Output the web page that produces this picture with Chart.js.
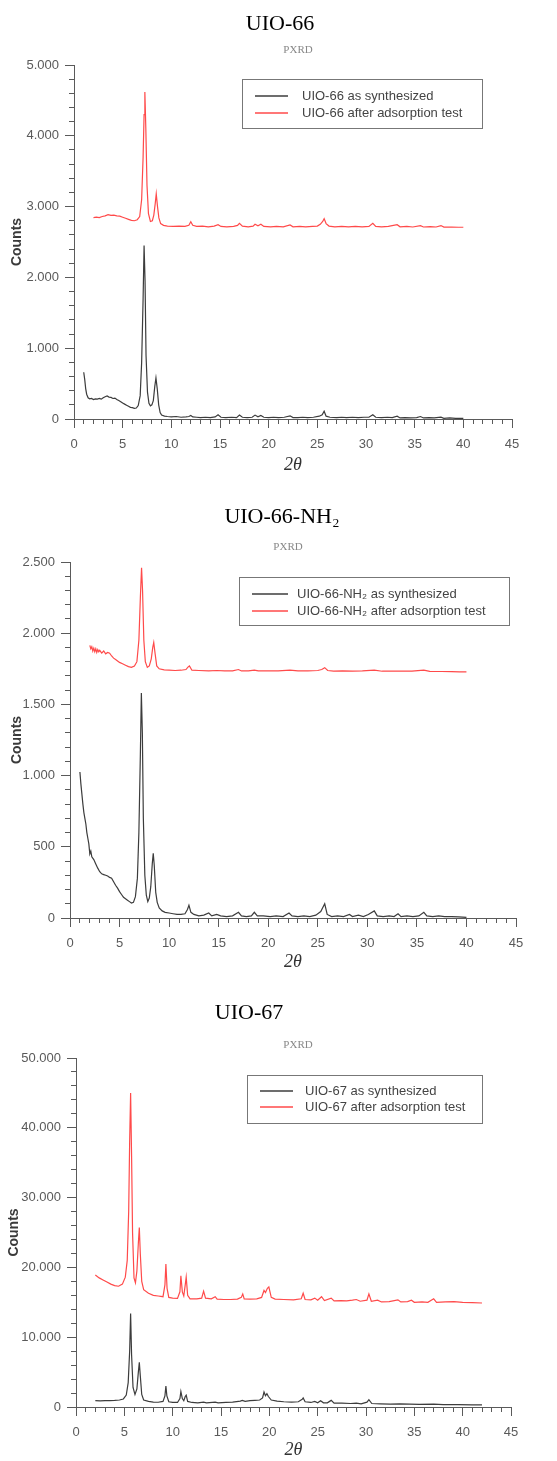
<!DOCTYPE html>
<html>
<head>
<meta charset="utf-8">
<script src="https://cdn.jsdelivr.net/npm/chart.js@4.4.1/dist/chart.umd.min.js"></script>
<style>
  body { margin: 0; background: #fff; width: 557px; height: 1461px; overflow: hidden; }
  .box { position: absolute; left: 0; width: 557px; }
</style>
</head>
<body>
<div class="box" style="top:0;height:490px"><canvas id="chart66"></canvas></div>
<div class="box" style="top:490px;height:500px"><canvas id="chart66nh2"></canvas></div>
<div class="box" style="top:990px;height:471px"><canvas id="chart67"></canvas></div>
<script>
// ---- UIO-66 ----
var uio66SynX = [1.0, 1.1, 1.2, 1.3, 1.45, 1.6, 1.8, 2.0, 2.2, 2.4, 2.6, 2.8, 3.0, 3.2, 3.4, 3.6, 3.8, 4.0, 4.2, 4.4, 4.6, 4.8, 5.0, 5.2, 5.4, 5.6, 5.8, 6.0, 6.2, 6.4, 6.6, 6.8, 6.95, 7.1, 7.2, 7.3, 7.4, 7.55, 7.7, 7.85, 8.0, 8.15, 8.3, 8.42, 8.55, 8.7, 8.85, 9.0, 9.3, 9.6, 10.0, 10.5, 11.0, 11.5, 11.8, 12.0, 12.2, 12.6, 13.0, 13.5, 14.0, 14.5, 14.8, 15.1, 15.6, 16.2, 16.7, 17.0, 17.3, 17.8, 18.3, 18.6, 18.9, 19.2, 19.5, 20.0, 20.5, 21.0, 21.6, 22.2, 22.5, 23.0, 23.5, 24.0, 24.6, 25.2, 25.5, 25.7, 25.9, 26.3, 27.0, 27.5, 28.0, 28.6, 29.2, 29.8, 30.3, 30.7, 31.0, 31.6, 32.2, 32.7, 33.2, 33.5, 34.0, 34.6, 35.2, 35.6, 35.9, 36.5, 37.0, 37.7, 38.0, 38.6, 39.2, 40.0];
var uio66SynY = [660, 560, 430, 350, 300, 285, 290, 275, 285, 280, 290, 280, 300, 315, 325, 310, 305, 290, 295, 275, 260, 245, 225, 210, 195, 180, 165, 160, 150, 155, 190, 330, 800, 1700, 2450, 1950, 900, 380, 220, 185, 200, 260, 460, 580, 430, 200, 90, 55, 40, 35, 30, 35, 25, 30, 35, 50, 30, 25, 20, 25, 20, 30, 60, 25, 20, 25, 20, 55, 25, 20, 25, 55, 30, 50, 25, 20, 25, 20, 25, 45, 20, 20, 25, 20, 25, 40, 60, 110, 40, 25, 20, 25, 20, 25, 20, 25, 25, 60, 25, 20, 25, 20, 40, 15, 20, 15, 20, 35, 15, 20, 15, 25, 10, 15, 10, 10];
var uio66AdsX = [2.0, 2.3, 2.6, 2.9, 3.2, 3.5, 3.8, 4.1, 4.4, 4.7, 5.0, 5.3, 5.6, 5.9, 6.2, 6.5, 6.75, 6.95, 7.1, 7.2, 7.28, 7.38, 7.5, 7.65, 7.85, 8.05, 8.2, 8.35, 8.45, 8.58, 8.72, 8.9, 9.2, 9.6, 10.2, 10.8, 11.4, 11.8, 12.0, 12.2, 12.6, 13.2, 13.8, 14.4, 14.8, 15.1, 15.7, 16.4, 16.8, 17.0, 17.3, 17.9, 18.4, 18.6, 18.9, 19.2, 19.5, 20.2, 20.8, 21.5, 22.2, 22.5, 23.2, 23.8, 24.5, 25.0, 25.3, 25.55, 25.7, 25.9, 26.2, 26.8, 27.5, 28.2, 28.9, 29.6, 30.3, 30.7, 31.0, 31.6, 32.3, 33.2, 33.5, 34.2, 34.8, 35.6, 35.9, 36.6, 37.2, 37.7, 38.0, 38.8, 39.5, 40.0];
var uio66AdsY = [2845, 2850, 2845, 2860, 2870, 2885, 2875, 2880, 2870, 2865, 2850, 2835, 2820, 2805, 2800, 2815, 2860, 3100, 3700, 4300, 4620, 4100, 3300, 2900, 2790, 2800, 2880, 3050, 3180, 3000, 2840, 2760, 2735, 2725, 2720, 2725, 2720, 2735, 2785, 2735, 2720, 2725, 2715, 2725, 2745, 2720, 2715, 2720, 2735, 2765, 2725, 2715, 2725, 2750, 2730, 2750, 2720, 2715, 2720, 2715, 2740, 2715, 2720, 2715, 2720, 2725, 2750, 2790, 2830, 2760, 2725, 2715, 2720, 2715, 2720, 2715, 2720, 2765, 2720, 2715, 2720, 2745, 2715, 2720, 2712, 2730, 2712, 2718, 2712, 2732, 2710, 2712, 2708, 2708];

// ---- UIO-66-NH2 ----
var nh2SynX = [1.0, 1.1, 1.2, 1.3, 1.4, 1.5, 1.6, 1.7, 1.8, 1.9, 2.0, 2.1, 2.2, 2.4, 2.6, 2.8, 3.0, 3.2, 3.4, 3.6, 3.8, 4.0, 4.2, 4.4, 4.6, 4.8, 5.0, 5.2, 5.4, 5.6, 5.8, 6.0, 6.2, 6.4, 6.6, 6.8, 6.95, 7.1, 7.2, 7.3, 7.4, 7.55, 7.7, 7.85, 8.0, 8.15, 8.3, 8.4, 8.5, 8.65, 8.8, 9.0, 9.3, 9.6, 10.0, 10.4, 10.8, 11.2, 11.6, 11.85, 12.0, 12.2, 12.5, 13.0, 13.5, 14.0, 14.3, 14.8, 15.2, 15.8, 16.4, 17.0, 17.3, 17.8, 18.3, 18.6, 18.9, 19.5, 20.2, 20.8, 21.5, 22.1, 22.4, 23.0, 23.6, 24.2, 24.8, 25.3, 25.7, 25.95, 26.4, 27.0, 27.6, 28.2, 28.5, 29.1, 29.6, 30.1, 30.7, 31.0, 31.6, 32.2, 32.7, 33.1, 33.4, 34.0, 34.6, 35.2, 35.7, 36.0, 36.6, 37.2, 37.8, 38.5, 39.2, 40.0];
var nh2SynY = [1025, 940, 870, 800, 740, 700, 660, 600, 560, 520, 450, 470, 430, 410, 380, 350, 325, 310, 305, 300, 295, 285, 280, 255, 230, 210, 185, 165, 145, 135, 125, 115, 105, 110, 150, 280, 600, 1150, 1580, 1300, 700, 300, 160, 115, 140, 220, 380, 455, 370, 180, 110, 70, 50, 40, 35, 30, 25, 25, 30, 60, 90, 40, 25, 15, 20, 35, 15, 25, 15, 10, 15, 40, 15, 10, 15, 40, 15, 15, 10, 15, 10, 35, 15, 10, 15, 10, 20, 45, 100, 25, 10, 15, 10, 25, 10, 20, 10, 25, 50, 15, 10, 15, 10, 30, 10, 15, 10, 15, 40, 15, 10, 15, 10, 10, 8, 5];
var nh2AdsX = [2.0, 2.1, 2.2, 2.3, 2.4, 2.5, 2.6, 2.7, 2.8, 2.9, 3.0, 3.2, 3.4, 3.6, 3.8, 4.0, 4.2, 4.4, 4.6, 4.8, 5.0, 5.3, 5.6, 5.9, 6.2, 6.5, 6.75, 6.95, 7.1, 7.22, 7.32, 7.45, 7.6, 7.8, 8.0, 8.2, 8.35, 8.45, 8.58, 8.75, 9.0, 9.5, 10.0, 10.6, 11.2, 11.7, 11.9, 12.05, 12.3, 13.0, 14.0, 14.8, 15.6, 16.4, 17.0, 17.3, 18.0, 18.6, 19.0, 20.0, 21.0, 22.2, 23.0, 24.0, 25.0, 25.4, 25.7, 26.0, 26.6, 27.5, 28.5, 29.5, 30.7, 31.5, 32.5, 33.5, 34.5, 35.7, 36.3, 37.5, 38.5, 39.3, 40.0];
var nh2AdsY = [1915, 1890, 1905, 1875, 1895, 1870, 1890, 1865, 1885, 1870, 1880, 1860, 1875, 1855, 1865, 1860, 1840, 1825, 1815, 1805, 1795, 1785, 1775, 1765, 1760, 1770, 1800, 1950, 2250, 2460, 2300, 1950, 1800, 1760, 1770, 1820, 1900, 1935, 1860, 1770, 1750, 1742, 1740, 1738, 1740, 1745, 1762, 1770, 1740, 1738, 1735, 1738, 1735, 1736, 1745, 1735, 1735, 1740, 1735, 1735, 1736, 1740, 1735, 1735, 1738, 1745, 1758, 1738, 1734, 1735, 1733, 1735, 1740, 1733, 1734, 1733, 1734, 1740, 1732, 1731, 1730, 1729, 1728];

// ---- UIO-67 ----
var uio67SynX = [2.0, 2.5, 3.0, 3.5, 4.0, 4.5, 4.9, 5.2, 5.4, 5.55, 5.65, 5.75, 5.9, 6.1, 6.3, 6.45, 6.55, 6.65, 6.8, 7.0, 7.5, 8.0, 8.5, 9.0, 9.2, 9.3, 9.4, 9.6, 10.0, 10.5, 10.75, 10.85, 11.0, 11.15, 11.3, 11.4, 11.55, 12.0, 12.6, 13.2, 13.5, 14.4, 14.7, 15.5, 16.2, 17.0, 17.2, 17.5, 18.0, 18.5, 19.0, 19.3, 19.45, 19.6, 19.75, 19.9, 20.2, 20.8, 21.5, 22.3, 23.0, 23.4, 23.5, 23.7, 24.3, 24.7, 25.0, 25.3, 25.6, 26.0, 26.4, 26.7, 27.5, 28.4, 29.0, 29.5, 30.1, 30.3, 30.6, 31.5, 32.5, 33.5, 34.5, 35.5, 37.0, 38.0, 39.5, 41.0, 42.0];
var uio67SynY = [900, 880, 900, 920, 950, 1000, 1150, 1700, 3500, 8000, 13400, 7500, 2800, 1800, 2600, 5000, 6400, 4500, 1800, 1000, 800, 700, 680, 800, 1600, 3000, 1600, 750, 650, 650, 1200, 2200, 1200, 900, 1500, 1700, 800, 650, 600, 700, 600, 700, 600, 650, 700, 850, 950, 800, 900, 950, 1000, 1300, 2150, 1600, 1900, 1500, 1000, 850, 750, 700, 750, 1100, 1300, 750, 650, 800, 600, 900, 600, 600, 950, 550, 550, 500, 550, 450, 700, 1050, 500, 450, 420, 450, 400, 380, 420, 350, 340, 310, 300];
var uio67AdsX = [2.0, 2.4, 2.8, 3.2, 3.6, 4.0, 4.4, 4.8, 5.1, 5.3, 5.45, 5.55, 5.65, 5.75, 5.85, 6.0, 6.15, 6.3, 6.45, 6.55, 6.65, 6.8, 7.0, 7.5, 8.0, 8.5, 9.0, 9.2, 9.3, 9.42, 9.6, 10.0, 10.5, 10.75, 10.85, 11.0, 11.15, 11.3, 11.4, 11.55, 11.8, 12.5, 13.0, 13.2, 13.4, 14.0, 14.4, 14.6, 15.3, 16.0, 16.7, 17.1, 17.25, 17.4, 18.0, 18.7, 19.2, 19.45, 19.6, 19.8, 19.95, 20.2, 20.6, 21.5, 22.5, 23.3, 23.5, 23.7, 24.3, 24.7, 25.0, 25.4, 25.7, 26.4, 26.7, 27.4, 28.0, 28.6, 29.0, 29.4, 30.1, 30.3, 30.55, 31.2, 31.6, 32.4, 33.3, 33.6, 34.3, 34.7, 35.0, 35.8, 36.4, 37.0, 37.3, 38.2, 39.1, 40.0, 41.0, 42.0];
var uio67AdsY = [18900, 18500, 18200, 17900, 17600, 17400, 17300, 17600, 18600, 21000, 28000, 38000, 45000, 36000, 25000, 18500, 17800, 19500, 23500, 25700, 22000, 18000, 16800, 16300, 16000, 15900, 15800, 17500, 20500, 17000, 15700, 15600, 15550, 16500, 18800, 16500, 15900, 17500, 18600, 16000, 15500, 15500, 15600, 16600, 15600, 15500, 15800, 15450, 15400, 15400, 15450, 15700, 16200, 15500, 15450, 15500, 15700, 16700, 16400, 17000, 17200, 15700, 15450, 15400, 15350, 15500, 16300, 15400, 15350, 15600, 15300, 15800, 15250, 15600, 15200, 15250, 15200, 15300, 15400, 15150, 15300, 16200, 15150, 15300, 15050, 15100, 15350, 15050, 15100, 15300, 15000, 15050, 15000, 15500, 15000, 15050, 15100, 15000, 14950, 14900];

var blackLine = '#3c3c3c';
var redLine = '#ff4a4a';
var axisGrey = '#5a5a5a';

function pts(xs, ys) {
  return xs.map(function (x, i) { return { x: x, y: ys[i] }; });
}

// 5000 -> "5.000"
function thousands(v) {
  return String(v).replace(/\B(?=(\d{3})+(?!\d))/g, '.');
}

// heading, PXRD subtitle and the boxed legend
var decorations = {
  id: 'decorations',
  afterDraw: function (chart, args, o) {
    var ctx = chart.ctx;
    ctx.save();
    ctx.textAlign = 'center';
    ctx.textBaseline = 'middle';
    ctx.fillStyle = '#000';
    ctx.font = '22px "Liberation Serif"';
    ctx.fillText(o.title, o.titleX, o.titleY);
    ctx.fillStyle = '#888';
    ctx.font = '11px "Liberation Serif"';
    ctx.fillText('PXRD', o.subX, o.subY);

    var b = o.box;
    ctx.strokeStyle = '#777';
    ctx.lineWidth = 1;
    ctx.fillStyle = '#fff';
    ctx.fillRect(b[0], b[1], b[2], b[3]);
    ctx.strokeRect(b[0] + 0.5, b[1] + 0.5, b[2], b[3]);
    ctx.textAlign = 'left';
    chart.data.datasets.forEach(function (ds, i) {
      var y = b[1] + o.rows[i];
      ctx.strokeStyle = ds.borderColor;
      ctx.lineWidth = 1.3;
      ctx.beginPath();
      ctx.moveTo(b[0] + 13, y);
      ctx.lineTo(b[0] + o.sample, y);
      ctx.stroke();
      ctx.fillStyle = '#444';
      ctx.font = '13px "Liberation Sans"';
      ctx.fillText(ds.label, b[0] + o.textOff, y);
    });
    ctx.restore();
  }
};

function drawPxrd(id, s) {
  var tickFont = { family: 'Liberation Sans', size: 13 };
  new Chart(document.getElementById(id), {
    type: 'scatter',
    data: {
      datasets: [
        { label: s.name + ' as synthesized', data: pts(s.synX, s.synY), borderColor: blackLine },
        { label: s.name + ' after adsorption test', data: pts(s.adsX, s.adsY), borderColor: redLine }
      ]
    },
    options: {
      responsive: true,
      maintainAspectRatio: false,
      animation: false,
      showLine: true,
      elements: {
        point: { radius: 0 },
        line: { borderWidth: 1.2, tension: 0 }
      },
      layout: { padding: { top: s.top, right: s.right, left: 0, bottom: 0 } },
      plugins: {
        legend: { display: false },
        tooltip: { enabled: false },
        decorations: s.deco
      },
      scales: {
        x: {
          type: 'linear', position: 'bottom', weight: 1, min: 0, max: 45,
          ticks: { stepSize: 5, color: axisGrey, font: tickFont, padding: 9, maxRotation: 0 },
          grid: { drawOnChartArea: false, tickLength: 9, tickColor: axisGrey },
          border: { color: axisGrey },
          title: { display: true, text: '2θ', color: '#333',
                   font: { family: 'Liberation Serif', style: 'italic', size: 18 },
                   padding: { top: 0, bottom: s.xTitlePad } },
          afterFit: function (sc) { sc.height = s.xHeight; }
        },
        xMinor: {
          type: 'linear', position: 'bottom', weight: 0, min: 0, max: 45,
          ticks: { stepSize: 1, display: false, autoSkip: false },
          grid: { drawOnChartArea: false, tickLength: 5, tickColor: axisGrey },
          border: { display: false },
          afterFit: function (sc) { sc.height = 0; }
        },
        y: {
          type: 'linear', position: 'left', weight: 1, min: 0, max: s.yMax,
          ticks: { stepSize: s.yStep, color: axisGrey, font: tickFont, padding: 6,
                   callback: function (v) { return thousands(v); } },
          grid: { drawOnChartArea: false, tickLength: 9, tickColor: axisGrey },
          border: { color: axisGrey },
          title: { display: true, text: 'Counts', color: '#3a3a3a',
                   font: { family: 'Liberation Sans', size: 14, weight: 'bold' },
                   padding: { top: s.yTitlePad, bottom: 0 } },
          afterFit: function (sc) { sc.width = s.left; }
        },
        yMinor: {
          type: 'linear', position: 'left', weight: 0, min: 0, max: s.yMax,
          ticks: { stepSize: s.yStep / 5, display: false, autoSkip: false },
          grid: { drawOnChartArea: false, tickLength: 5, tickColor: axisGrey },
          border: { display: false },
          afterFit: function (sc) { sc.width = 0; }
        }
      }
    },
    plugins: [decorations]
  });
}

drawPxrd('chart66', {
  name: 'UIO-66', synX: uio66SynX, synY: uio66SynY, adsX: uio66AdsX, adsY: uio66AdsY,
  yMax: 5000, yStep: 1000, top: 65, right: 45, left: 74, xHeight: 71, xTitlePad: 14, yTitlePad: 9,
  deco: { title: 'UIO-66', titleX: 280, titleY: 24, subX: 298, subY: 50,
          box: [242, 79, 240, 49], rows: [17, 34], sample: 46, textOff: 60 }
});

drawPxrd('chart66nh2', {
  name: 'UIO-66-NH₂', synX: nh2SynX, synY: nh2SynY, adsX: nh2AdsX, adsY: nh2AdsY,
  yMax: 2500, yStep: 500, top: 72, right: 41, left: 70, xHeight: 72, xTitlePad: 17, yTitlePad: 9,
  deco: { title: 'UIO-66-NH₂', titleX: 282, titleY: 27, subX: 288, subY: 57,
          box: [239, 87, 270, 48], rows: [17, 34], sample: 49, textOff: 58 }
});

drawPxrd('chart67', {
  name: 'UIO-67', synX: uio67SynX, synY: uio67SynY, adsX: uio67AdsX, adsY: uio67AdsY,
  yMax: 50000, yStep: 10000, top: 68, right: 46, left: 76, xHeight: 54, xTitlePad: 0, yTitlePad: 6,
  deco: { title: 'UIO-67', titleX: 249, titleY: 23, subX: 298, subY: 55,
          box: [247, 85, 235, 48], rows: [16, 32], sample: 46, textOff: 58 }
});
</script>
</body>
</html>
